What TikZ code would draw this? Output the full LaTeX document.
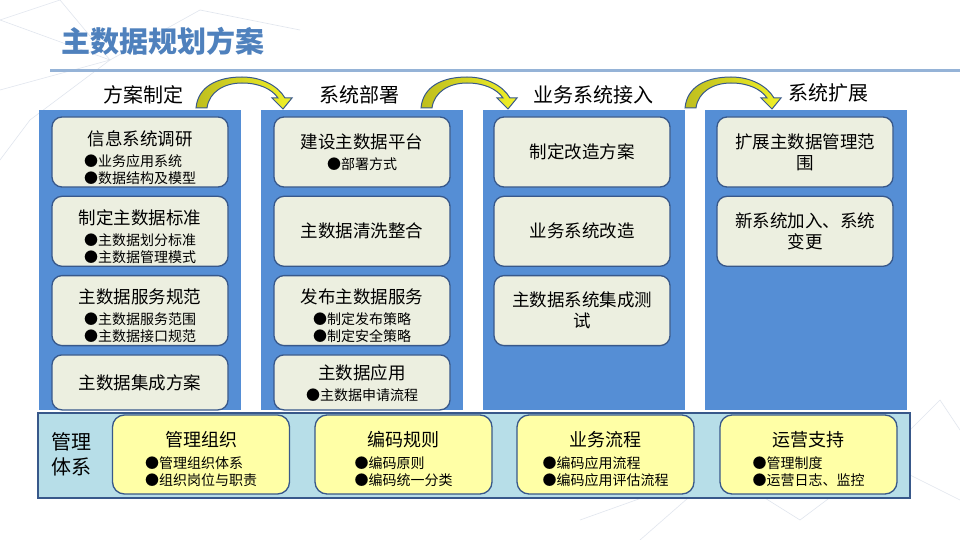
\documentclass[tikz,border=0pt]{standalone}
\usepackage{fontspec}
\setmainfont{Noto Sans CJK SC}
\usetikzlibrary{positioning}

\definecolor{titleblue}{RGB}{79,129,189}
\definecolor{lineblue}{RGB}{149,179,215}
\definecolor{colblue}{RGB}{85,142,213}
\definecolor{boxfill}{RGB}{236,239,224}
\definecolor{boxline}{RGB}{56,88,138}
\definecolor{bandblue}{RGB}{183,222,232}
\definecolor{noteyellow}{RGB}{255,255,166}
\definecolor{arrowdark}{RGB}{190,190,30}
\definecolor{arrowlight}{RGB}{240,240,40}
\definecolor{netgray}{RGB}{225,230,238}

% bullets left aligned below a title; the optional value lets the text sit lower in its box
\newcommand{\bulletlines}[2][15pt]{\raisebox{0pt}[\height][\dimexpr\depth-#1\relax]{\fontsize{14}{17}\selectfont\begin{tabular}[t]{@{}l@{}}#2\end{tabular}}}

\begin{document}
\begin{tikzpicture}
		[
		x = 1pt, y = -1pt,
		stage/.style = {fill = colblue, minimum width = 202pt, minimum height = 300pt, inner sep = 0pt},
		stagehead/.style = {font = \fontsize{20}{24}\selectfont},
		stepbox/.style = {draw = boxline, line width = 1.3pt, fill = boxfill, rounded corners = 10pt,
			minimum width = 176pt, minimum height = 70pt, align = center, inner sep = 2pt,
			font = \fontsize{17.5}{21}\selectfont},
		notebox/.style = {draw = boxline, line width = 1.3pt, fill = noteyellow, rounded corners = 12pt,
			minimum width = 177pt, minimum height = 79pt, align = center, inner sep = 2pt,
			font = \fontsize{18}{22}\selectfont},
		turnarrow/.style = {draw = boxline, line width = 1pt, left color = arrowdark, right color = arrowlight},
		]
		
		\useasboundingbox (0,0) rectangle (960,540);
		\fill[white] (0,0) rectangle (960,540);
		
		% faint network in the corners
		\foreach \a/\b in {{(0,20)/(60,0)}, {(0,20)/(110,60)}, {(60,0)/(110,60)}, {(110,60)/(200,10)},
			{(200,10)/(300,30)}, {(110,60)/(30,120)}, {(0,90)/(110,60)}, {(30,120)/(0,160)},
			{(640,540)/(720,470)}, {(720,470)/(800,520)}, {(800,520)/(880,460)}, {(880,460)/(960,500)},
			{(720,470)/(880,460)}, {(880,460)/(940,400)}, {(940,400)/(960,430)}, {(580,520)/(720,470)}} {
			\draw[netgray, line width = 0.6pt] \a -- \b;
		}
		
		% title
		\node[font = \fontsize{29}{33}\selectfont\bfseries, text = titleblue, anchor = west] (title) at (58,41) {主数据规划方案};
		\coordinate (rulestart) at (50,71);
		\coordinate (ruleend) at (960,71);
		\draw[lineblue, line width = 3pt] (rulestart) -- (ruleend);
		
		% four stages
		\node[stage] (plan) at (140,260) {};
		\node[stage] (deploy) at (362,260) {};
		\node[stage] (access) at (584,260) {};
		\node[stage] (extend) at (806,260) {};
		
		\node[stagehead] (planhead) at (143,95) {方案制定};
		\node[stagehead] (deployhead) at (359,95) {系统部署};
		\node[stagehead] (accesshead) at (593,95) {业务系统接入};
		\node[stagehead] (extendhead) at (828,93) {系统扩展};
		
		% stage 1
		\node[stepbox] (plan1) at (140,152) {信息系统调研\\\bulletlines{●业务应用系统\\●数据结构及模型}};
		\node[stepbox, below = 8pt of plan1] (plan2) {制定主数据标准\\\bulletlines{●主数据划分标准\\●主数据管理模式}};
		\node[stepbox, below = 8pt of plan2] (plan3) {主数据服务规范\\\bulletlines{●主数据服务范围\\●主数据接口规范}};
		\node[stepbox, below = 8pt of plan3, minimum height = 55pt] (plan4) {主数据集成方案};
		
		% stage 2
		\node[stepbox] (deploy1) at (362,152) {建设主数据平台\\\bulletlines[16pt]{●部署方式}};
		\node[stepbox, below = 8pt of deploy1] (deploy2) {主数据清洗整合};
		\node[stepbox, below = 8pt of deploy2] (deploy3) {发布主数据服务\\\bulletlines{●制定发布策略\\●制定安全策略}};
		\node[stepbox, below = 8pt of deploy3, minimum height = 55pt] (deploy4) {主数据应用\\\bulletlines[8pt]{●主数据申请流程}};
		
		% stage 3
		\node[stepbox] (access1) at (582,152) {制定改造方案};
		\node[stepbox, below = 8pt of access1] (access2) {业务系统改造};
		\node[stepbox, below = 8pt of access2] (access3) {主数据系统集成测\\试};
		
		% stage 4
		\node[stepbox] (extend1) at (805,152) {扩展主数据管理范\\围};
		\node[stepbox, below = 8pt of extend1] (extend2) {新系统加入、系统\\变更};
		
		% arrows between the stages
		\foreach \x in {196,421,685} {
			\path[turnarrow] (\x,108) .. controls (\x+2,86) and (\x+22,77) .. (\x+46,77)
				.. controls (\x+66,77) and (\x+82,86) .. (\x+89,98) -- (\x+96,98) -- (\x+87,109) -- (\x+76,98) -- (\x+82,98)
				.. controls (\x+76,89) and (\x+63,83) .. (\x+46,83)
				.. controls (\x+28,83) and (\x+13,92) .. (\x+11,108) -- cycle;
		}
		
		% management band
		\node[draw = boxline, line width = 2pt, fill = bandblue, minimum width = 872pt, minimum height = 85pt] (mgmt) at (474,455) {};
		\node[align = center, font = \fontsize{20}{25}\selectfont] (mgmtlabel) at (71,454) {管理\\体系};
		\node[notebox] (org) at (201,454.5) {管理组织\\\bulletlines[13pt]{●管理组织体系\\●组织岗位与职责}};
		\node[notebox] (code) at (403.5,454.5) {编码规则\\\bulletlines[13pt]{●编码原则\\●编码统一分类}};
		\node[notebox] (flow) at (605.5,454.5) {业务流程\\\bulletlines[13pt]{●编码应用流程\\●编码应用评估流程}};
		\node[notebox] (ops) at (808.5,454.5) {运营支持\\\bulletlines[13pt]{●管理制度\\●运营日志、监控}};
		
\end{tikzpicture}
\end{document}
